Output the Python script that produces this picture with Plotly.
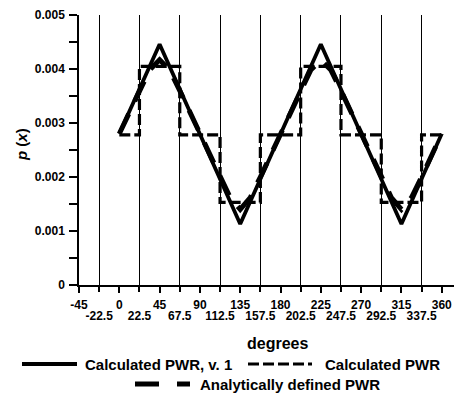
import plotly.graph_objects as go

# ---------------- data ----------------
# Calculated PWR, v. 1 (solid, piecewise linear)
v1_deg = [0, 45, 135, 225, 315, 360]
v1_p = [0.00280, 0.00446, 0.00113, 0.00446, 0.00113, 0.00280]

# Calculated PWR (short dashes, step function, value holds until next x)
step_deg = [0, 22.5, 67.5, 112.5, 157.5, 202.5, 247.5, 292.5, 337.5, 360]
step_p = [0.00278, 0.00405, 0.00278, 0.00153, 0.00278, 0.00405, 0.00278, 0.00153, 0.00278, 0.00278]

# Analytically defined PWR (long dashes)
an_deg = [0, 11.25, 22.5, 33.75, 45, 56.25, 67.5, 78.75, 90, 101.25, 112.5, 123.75, 135,
          146.25, 157.5, 168.75, 180, 191.25, 202.5, 213.75, 225, 236.25, 247.5, 258.75, 270,
          281.25, 292.5, 303.75, 315, 326.25, 337.5, 348.75, 360]
an_p = [0.00280, 0.00320, 0.00360, 0.00398, 0.00417, 0.00398, 0.00360, 0.00320, 0.00280,
        0.00240, 0.00200, 0.00162, 0.00140, 0.00162, 0.00200, 0.00240, 0.00280,
        0.00320, 0.00360, 0.00398, 0.00417, 0.00398, 0.00360, 0.00320, 0.00280,
        0.00240, 0.00200, 0.00162, 0.00140, 0.00162, 0.00200, 0.00240, 0.00280]

# axis ticks
x_row1_ticks = [-45, 0, 45, 90, 135, 180, 225, 270, 315, 360]
x_row1_labels = ["-45", "0", "45", "90", "135", "180", "225", "270", "315", "360"]
x_row2_ticks = [-22.5, 22.5, 67.5, 112.5, 157.5, 202.5, 247.5, 292.5, 337.5]
x_row2_labels = ["-22.5", "22.5", "67.5", "112.5", "157.5", "202.5", "247.5", "292.5", "337.5"]
y_ticks = [0, 0.001, 0.002, 0.003, 0.004, 0.005]
y_labels = ["0", "0.001", "0.002", "0.003", "0.004", "0.005"]

series_names = ["Calculated PWR, v. 1", "Calculated PWR", "Analytically defined PWR"]

FONT = "Liberation Sans, Arial, sans-serif"
W, H = 454, 394
ML, MR, MT, MB = 79, 0, 15, 109
PW, PH = W - ML - MR, H - MT - MB

def px_x(p):
    return (p - ML) / PW

def px_y(p):
    return (H - MB - p) / PH

fig = go.Figure()
fig.add_trace(go.Scatter(x=an_deg, y=an_p, mode="lines", name=series_names[2], showlegend=False,
                         line=dict(color="black", width=5, dash="22px,14px")))
fig.add_trace(go.Scatter(x=step_deg, y=step_p, mode="lines", name=series_names[1], showlegend=False,
                         line=dict(color="black", width=3.2, dash="11px,4px", shape="hv")))
fig.add_trace(go.Scatter(x=v1_deg, y=v1_p, mode="lines", name=series_names[0], showlegend=False,
                         line=dict(color="black", width=3.8)))
# invisible helper trace to make the overlaid axis exist
fig.add_trace(go.Scatter(x=[x_row2_ticks[0]], y=[0], xaxis="x2", mode="markers",
                         marker=dict(opacity=0), showlegend=False, hoverinfo="skip"))

xr = [-45, 373.7]
fig.update_layout(
    width=W, height=H,
    margin=dict(l=ML, r=MR, t=MT, b=MB),
    paper_bgcolor="white", plot_bgcolor="white",
    font=dict(family=FONT, color="black"),
    xaxis=dict(range=xr, tickmode="array", tickvals=x_row1_ticks, ticktext=x_row1_labels,
               ticks="outside", ticklen=6, tickwidth=1.5, tickcolor="black",
               showline=True, linecolor="black", linewidth=1.5,
               showgrid=False, zeroline=False,
               tickfont=dict(size=12, family=FONT, weight="bold"),
               ticklabelstandoff=2),
    xaxis2=dict(range=xr, overlaying="x", anchor="y", side="bottom",
                tickmode="array", tickvals=x_row2_ticks, ticktext=x_row2_labels,
                ticks="outside", ticklen=6, tickwidth=1.5, tickcolor="black",
                showline=False, showgrid=True, gridcolor="black", gridwidth=1,
                zeroline=False,
                tickfont=dict(size=12, family=FONT, weight="bold"),
                ticklabelstandoff=14),
    yaxis=dict(range=[0, 0.005], tickmode="array", tickvals=y_ticks, ticktext=y_labels,
               ticks="outside", ticklen=8, tickwidth=1.5, tickcolor="black",
               showline=True, linecolor="black", linewidth=1.5,
               showgrid=False, zeroline=False,
               minor=dict(ticks="outside", tick0=0, dtick=0.0005, ticklen=8,
                          tickwidth=1.5, tickcolor="black", showgrid=False),
               tickfont=dict(size=12, family=FONT, weight="bold"),
               ticklabelstandoff=2),
)

annotations = [
    dict(text="<b>degrees</b>", x=px_x(277), y=px_y(343), xref="paper", yref="paper",
         showarrow=False, font=dict(size=16, family=FONT), xanchor="center", yanchor="middle"),
    dict(text="<b><i>p</i> (<i>x</i>)</b>", x=px_x(21), y=px_y(145), xref="paper", yref="paper",
         showarrow=False, textangle=-90, font=dict(size=15, family=FONT),
         xanchor="center", yanchor="middle"),
]

# manual legend (line sample + label)
legend_rows = [
    (series_names[0], "solid", 3.8, 22, 77, 83, 364),
    (series_names[1], "11px,4px", 3.2, 248, 312, 323, 364),
    (series_names[2], "24px,18px", 5, 135, 190, 198, 384),
]
shapes = []
for name, dash, lw, x0, x1, tx, yy in legend_rows:
    shapes.append(dict(type="line", xref="paper", yref="paper",
                       x0=px_x(x0), x1=px_x(x1), y0=px_y(yy), y1=px_y(yy),
                       line=dict(color="black", width=lw, dash=dash)))
    annotations.append(dict(text="<b>" + name + "</b>", x=px_x(tx), y=px_y(yy),
                            xref="paper", yref="paper", showarrow=False,
                            xanchor="left", yanchor="middle",
                            font=dict(size=15, family=FONT)))

fig.update_layout(annotations=annotations, shapes=shapes)
fig.write_html("out.html")
